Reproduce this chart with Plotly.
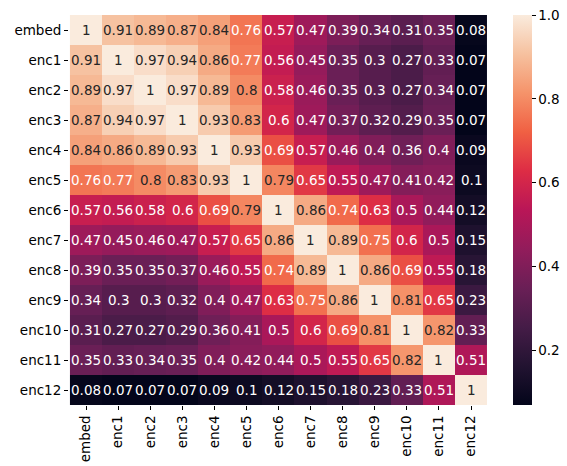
import plotly.graph_objects as go

labels = ["embed", "enc1", "enc2", "enc3", "enc4", "enc5", "enc6",
          "enc7", "enc8", "enc9", "enc10", "enc11", "enc12"]

row_embed = [1, .91, .89, .87, .84, .76, .57, .47, .39, .34, .31, .35, .08]
row_enc1 = [.91, 1, .97, .94, .86, .77, .56, .45, .35, .3, .27, .33, .07]
row_enc2 = [.89, .97, 1, .97, .89, .8, .58, .46, .35, .3, .27, .34, .07]
row_enc3 = [.87, .94, .97, 1, .93, .83, .6, .47, .37, .32, .29, .35, .07]
row_enc4 = [.84, .86, .89, .93, 1, .93, .69, .57, .46, .4, .36, .4, .09]
row_enc5 = [.76, .77, .8, .83, .93, 1, .79, .65, .55, .47, .41, .42, .1]
row_enc6 = [.57, .56, .58, .6, .69, .79, 1, .86, .74, .63, .5, .44, .12]
row_enc7 = [.47, .45, .46, .47, .57, .65, .86, 1, .89, .75, .6, .5, .15]
row_enc8 = [.39, .35, .35, .37, .46, .55, .74, .89, 1, .86, .69, .55, .18]
row_enc9 = [.34, .3, .3, .32, .4, .47, .63, .75, .86, 1, .81, .65, .23]
row_enc10 = [.31, .27, .27, .29, .36, .41, .5, .6, .69, .81, 1, .82, .33]
row_enc11 = [.35, .33, .34, .35, .4, .42, .44, .5, .55, .65, .82, 1, .51]
row_enc12 = [.08, .07, .07, .07, .09, .1, .12, .15, .18, .23, .33, .51, 1]

z = [row_embed, row_enc1, row_enc2, row_enc3, row_enc4, row_enc5, row_enc6,
     row_enc7, row_enc8, row_enc9, row_enc10, row_enc11, row_enc12]

colorbar_ticks = [0.2, 0.4, 0.6, 0.8, 1.0]

rocket = [
    [0.0, "#03051a"], [0.1, "#221331"], [0.2, "#451c47"], [0.3, "#6a1f56"],
    [0.4, "#921c5b"], [0.5, "#b91657"], [0.6, "#dd2c45"], [0.7, "#f06043"],
    [0.8, "#f5936a"], [0.9, "#f6c19f"], [1.0, "#faebdd"],
]

zmin = min(min(r) for r in z)
zmax = max(max(r) for r in z)

def fmt(v):
    return "{:.2g}".format(v)

fig = go.Figure(go.Heatmap(
    z=z, x=labels, y=labels, colorscale=rocket, zmin=zmin, zmax=zmax,
    showscale=True,
    colorbar=dict(
        x=1.06, xanchor="left", xpad=0, ypad=0, y=0.5, yanchor="middle",
        len=1, lenmode="fraction",
        thickness=19, outlinewidth=0, tickvals=colorbar_ticks,
        ticktext=[str(t) for t in colorbar_ticks],
        ticks="outside", ticklen=4, tickcolor="black",
        tickfont=dict(size=13.5, color="#000", family="DejaVu Sans"),
    ),
    hoverinfo="skip",
))

annotations = []
for i, rl in enumerate(labels):
    for j, cl in enumerate(labels):
        v = z[i][j]
        norm = (v - zmin) / (zmax - zmin)
        col = "#262626" if norm > 0.77 else "white"
        annotations.append(dict(x=cl, y=rl, text=fmt(v), showarrow=False,
                                font=dict(size=13.5, color=col, family="DejaVu Sans")))

fig.update_layout(
    width=567, height=466,
    margin=dict(l=69, r=79, t=15, b=61, autoexpand=False),
    plot_bgcolor="white", paper_bgcolor="white",
    annotations=annotations,
    font=dict(family="DejaVu Sans", size=13, color="#000"),
    xaxis=dict(tickangle=-90, ticks="outside", ticklen=4, tickcolor="black",
               showgrid=False, zeroline=False, showline=False, automargin=False,
               tickfont=dict(size=13.5, color="#000")),
    yaxis=dict(autorange="reversed", ticks="outside", ticklen=4, tickcolor="black",
               showgrid=False, zeroline=False, showline=False, automargin=False,
               tickfont=dict(size=13.5, color="#000")),
)

fig.write_html("out.html", config={"displayModeBar": False},
               post_script="document.body.style.margin='0';")
